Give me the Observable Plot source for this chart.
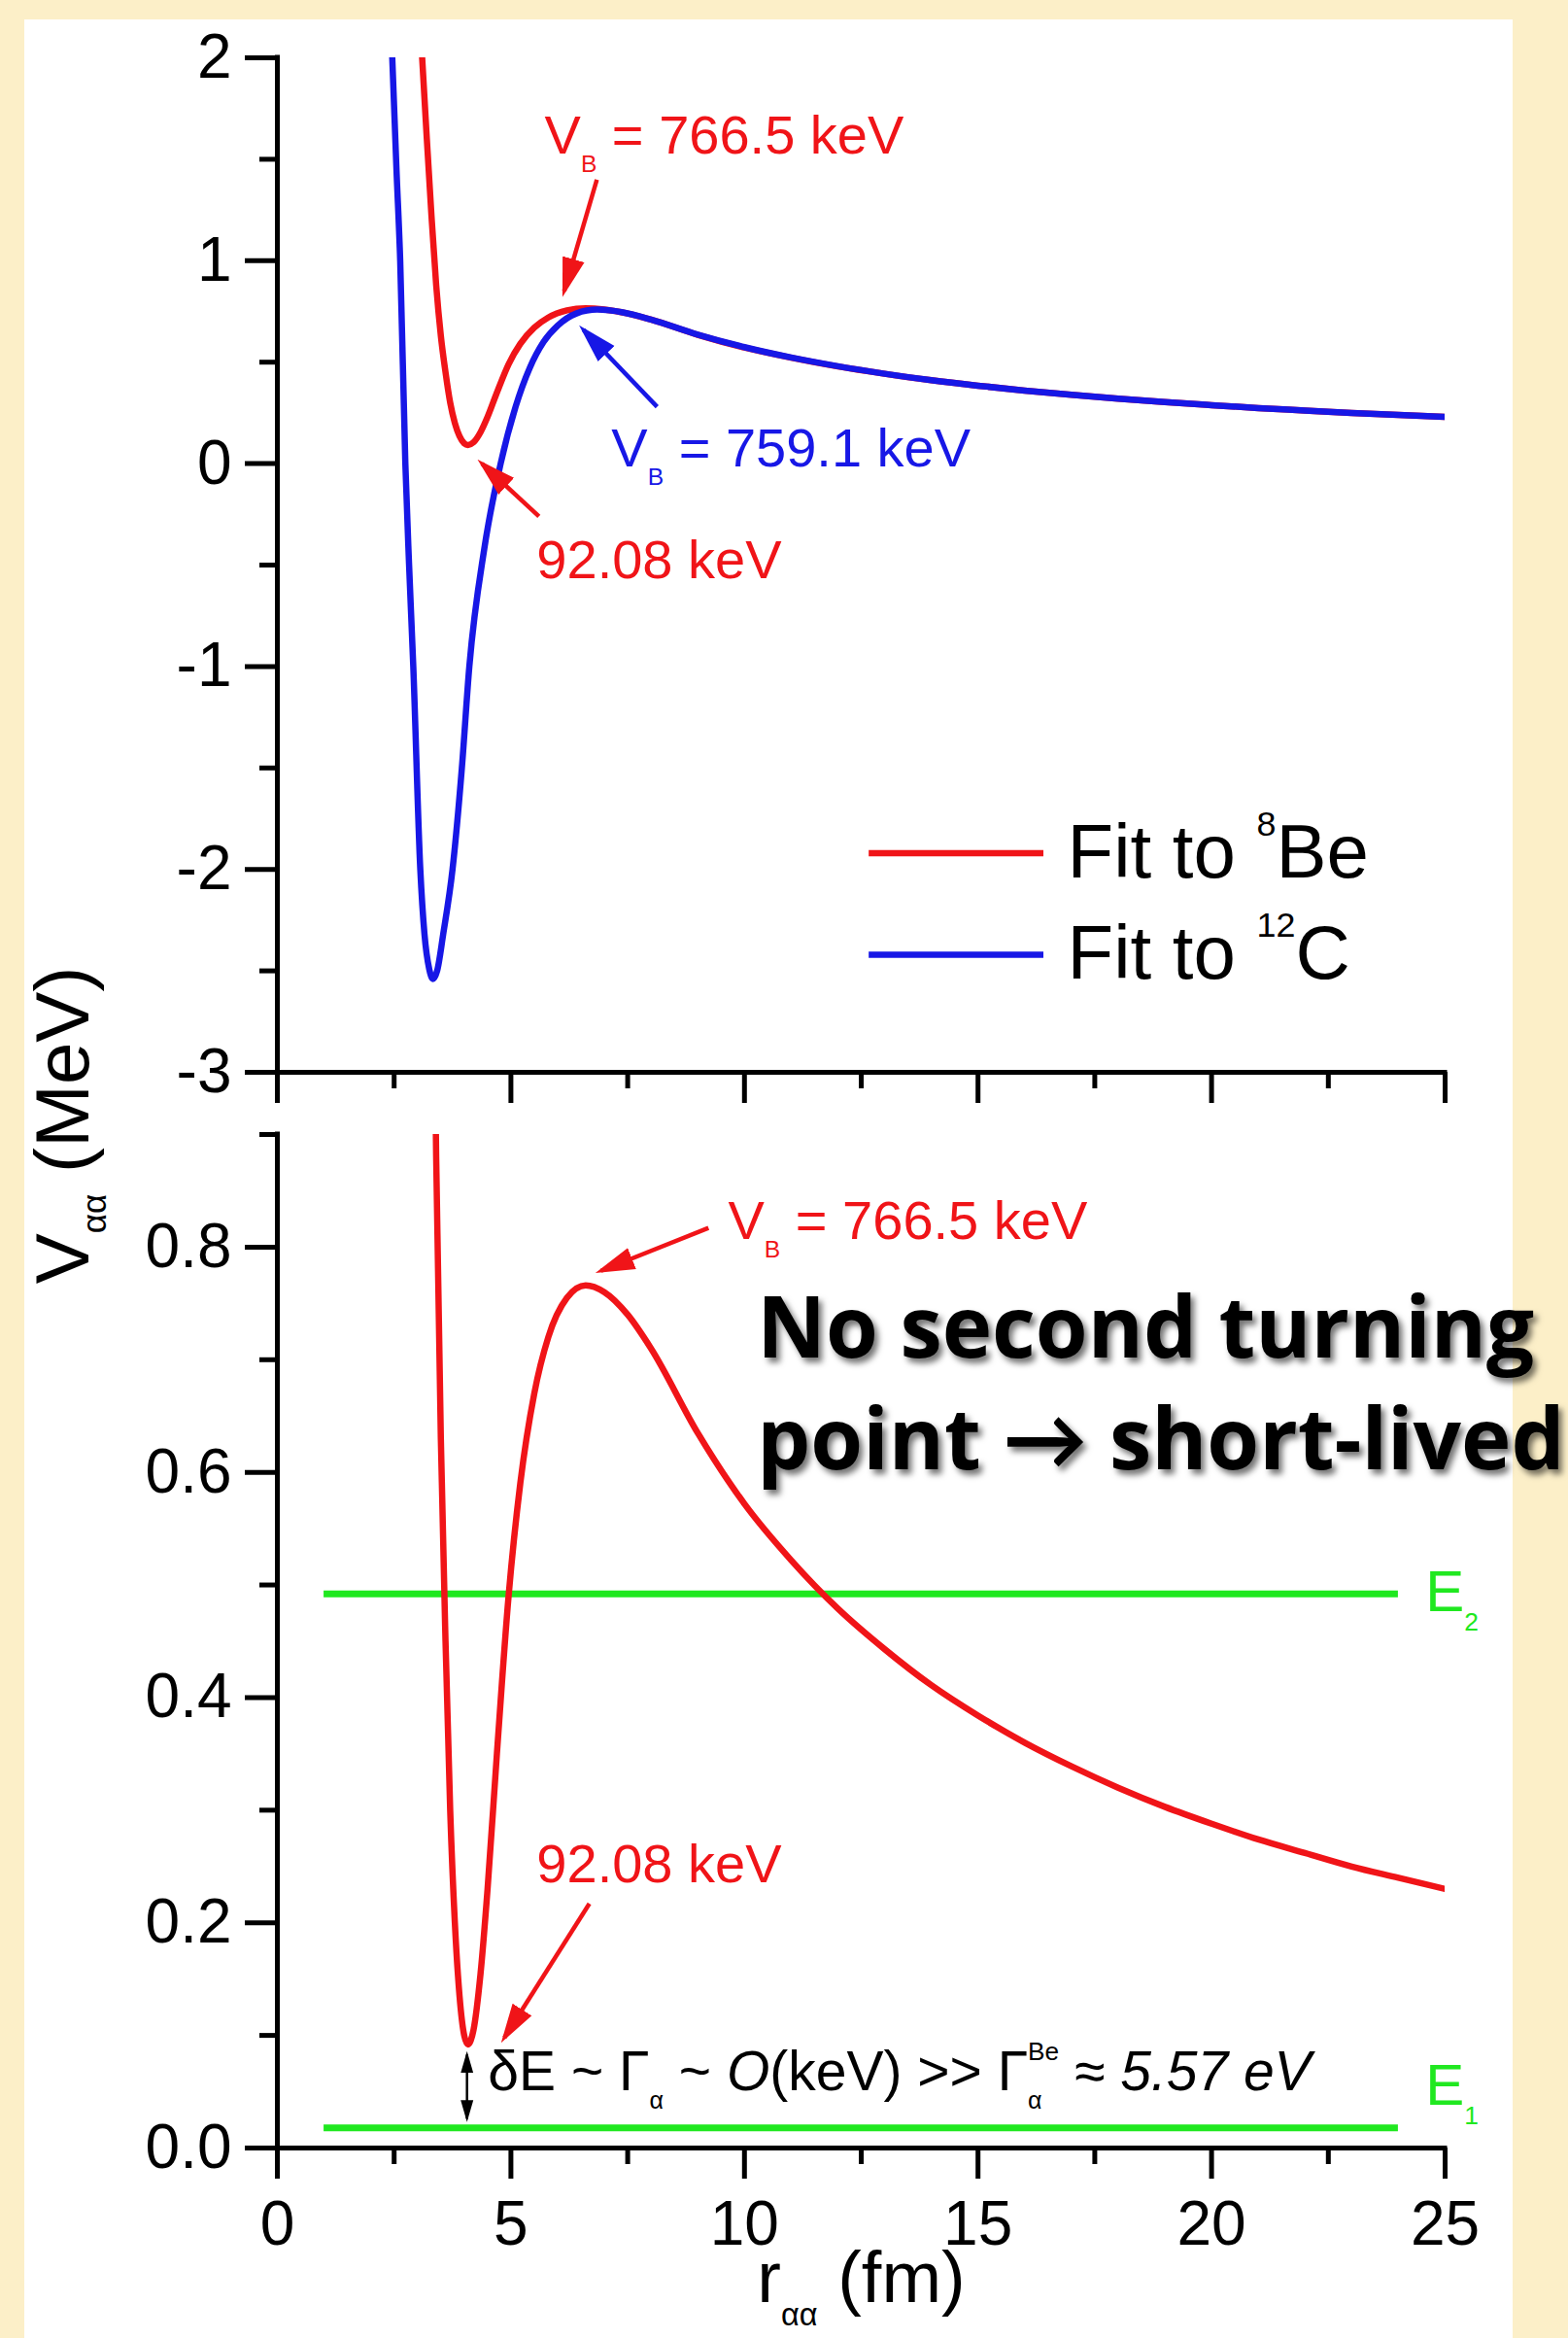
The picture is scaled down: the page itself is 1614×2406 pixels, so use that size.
<!DOCTYPE html>
<html>
<head>
<meta charset="utf-8">
<script src="https://cdn.jsdelivr.net/npm/d3@7"></script>
<script src="https://cdn.jsdelivr.net/npm/@observablehq/plot@0.6"></script>
<style>
  html, body { margin: 0; padding: 0; width: 1614px; height: 2406px; overflow: hidden; background: #FCEFC8; }
  #panel { position: absolute; left: 25px; top: 20px; width: 1532px; height: 2386px; background: #ffffff; }
  #topPlot, #bottomPlot { position: absolute; left: 0; }
  #topPlot { top: 0; }
  #bottomPlot { top: 1100px; }
  svg { overflow: visible; }
  #ylab { position: absolute; left: 64px; top: 1158px; transform: translate(-50%, -50%) rotate(-90deg);
          font: 78px 'Liberation Sans', Arial, sans-serif; line-height: 1; white-space: nowrap; color: #000; }
  #ylab .sub { font-size: 0.45em; position: relative; top: 0.5em; }
</style>
</head>
<body>
<div id="panel"></div>
<div id="topPlot"></div>
<div id="bottomPlot"></div>
<div id="ylab">V<span class="sub">αα</span> (MeV)</div>
<script>
// ---------------- data ----------------
// alpha-alpha separation r (fm) and potential V (MeV), fit to 8Be
const rBe = [3.10, 3.20, 3.30, 3.40, 3.50, 3.60, 3.70, 3.80, 3.90, 4.00,
             4.08, 4.20, 4.35, 4.50, 4.70, 4.95, 5.20, 5.50, 5.80, 6.20,
             6.60, 7.00, 7.50, 8.00, 9.00, 10, 11, 12, 13, 14,
             15, 16, 17, 18, 19, 20, 21, 22, 23, 24, 25];
const vBe = [2.00, 1.60, 1.22, 0.88, 0.63, 0.45, 0.30, 0.20, 0.135, 0.100,
             0.092, 0.105, 0.155, 0.23, 0.35, 0.49, 0.59, 0.67, 0.72, 0.755,
             0.766, 0.760, 0.74, 0.71, 0.635, 0.572, 0.522, 0.479, 0.443, 0.411,
             0.384, 0.360, 0.339, 0.320, 0.303, 0.288, 0.274, 0.262, 0.250, 0.240, 0.230];
// fit to 12C
const rC = [2.46, 2.55, 2.63, 2.74, 2.82, 2.91, 3.06, 3.15, 3.25, 3.33,
            3.42, 3.55, 3.75, 3.95, 4.11, 4.43, 4.78, 5.10, 5.40, 5.70,
            6.00, 6.40, 6.85, 7.40, 8.00, 9, 10, 11, 12, 13,
            14, 15, 16, 17, 18, 19, 20, 21, 22, 23, 24, 25];
const vC = [2.00, 1.45, 1.00, 0.00, -0.50, -1.00, -2.00, -2.32, -2.49, -2.54,
            -2.50, -2.32, -2.00, -1.50, -1.00, -0.42, 0.00, 0.28, 0.47, 0.60,
            0.68, 0.74, 0.759, 0.745, 0.71, 0.636, 0.574, 0.523, 0.480, 0.443,
            0.411, 0.384, 0.360, 0.339, 0.320, 0.303, 0.288, 0.274, 0.262, 0.250, 0.240, 0.230];
const seriesNames = ["Fit to ^{8}Be", "Fit to ^{12}C"];
const energyLevels = [0.018, 0.492];
const energyNames = ["E_{1}", "E_{2}"];
const levelSpan = [1, 24];
const topNotes = ["V_{B} = 766.5 keV", "V_{B} = 759.1 keV", "92.08 keV"];
const bottomNotes = ["V_{B} = 766.5 keV", "92.08 keV"];
const widthNote = "δE ~ Γ_{α} ~ *{O}(keV) >> Γ_{α}^{Be} ≈ *{5.57 eV}";
const bigNote = "No second turning\npoint → short-lived";
const xTitle = "r_{αα} (fm)";
const xMajor = [0, 5, 10, 15, 20, 25];
const xMinor = [2.5, 7.5, 12.5, 17.5, 22.5];
const yTopMajor = [-3, -2, -1, 0, 1, 2];
const yTopMinor = [-2.5, -1.5, -0.5, 0.5, 1.5];
const yBotMajor = [0, 0.2, 0.4, 0.6, 0.8];
const yBotMinor = [0.1, 0.3, 0.5, 0.7, 0.9];

// ---------------- styling / layout ----------------
const RED = "#f01418", BLUE = "#1717e6", GREEN = "#20e820", INK = "#000";
const FONT = "'Liberation Sans', Arial, sans-serif";
const be = rBe.map((r, i) => ({r, v: vBe[i]}));
const c12 = rC.map((r, i) => ({r, v: vC[i]}));

function filledHead(color) {
  const m = d3.create("svg:marker")
    .attr("viewBox", "-9 -3 9 6")
    .attr("markerWidth", 9).attr("markerHeight", 6)
    .attr("refX", -1.4).attr("refY", 0)
    .attr("orient", "auto-start-reverse")
    .attr("stroke", "none");
  m.append("path").attr("d", "M-9,-2.6L0,0L-9,2.6Z").attr("fill", color).attr("stroke", "none");
  return m.node();
}

function axes(yMajor, yMinor, yFmt, xLabels) {
  return [
    Plot.axisY(yMajor, {tickSize: 33, tickPadding: 14, strokeWidth: 5, tickFormat: yFmt, label: null, fontSize: 64}),
    Plot.axisY(yMinor, {tickSize: 18, strokeWidth: 5, text: null, label: null}),
    xLabels
      ? Plot.axisX(xMajor, {tickSize: 32, tickPadding: 22, strokeWidth: 5, tickFormat: d => String(d), label: null, fontSize: 64})
      : Plot.axisX(xMajor, {tickSize: 32, strokeWidth: 5, text: null, label: null}),
    Plot.axisX(xMinor, {tickSize: 17, strokeWidth: 5, text: null, label: null})
  ];
}
const style = {background: "transparent", overflow: "visible", fontFamily: FONT, fontSize: "64px", color: "#000"};

function note(arr, i, x, y, color, size = 56, extra = {}) {
  return Plot.text([arr[i]], {x: () => x, y: () => y, text: d => d, fill: color, fontSize: size,
    fontFamily: FONT, textAnchor: "start", lineAnchor: "bottom", ...extra});
}
function arrow(x1, y1, x2, y2, color, w = 4.5, both = false) {
  return Plot.link([0], {x1: () => x1, y1: () => y1, x2: () => x2, y2: () => y2, stroke: color,
    strokeWidth: w, markerEnd: filledHead, markerStart: both ? filledHead : null});
}

// ---------------- top panel ----------------
const topPlot = Plot.plot({
  width: 1614, height: 1160, marginLeft: 285, marginRight: 127, marginTop: 59, marginBottom: 57,
  x: {domain: [0, 25]}, y: {domain: [-3, 2]}, style,
  marks: [
    ...axes(yTopMajor, yTopMinor, d => String(d), false),
    Plot.ruleX([0], {strokeWidth: 5, strokeLinecap: "square"}),
    Plot.ruleY([-3], {strokeWidth: 5, strokeLinecap: "square"}),
    Plot.line(be, {x: "r", y: "v", stroke: RED, strokeWidth: 6.5, curve: "monotone-x", clip: true}),
    Plot.line(c12, {x: "r", y: "v", stroke: BLUE, strokeWidth: 6.5, curve: "monotone-x", clip: true}),
    arrow(6.84, 1.40, 6.14, 0.85, RED),
    arrow(8.13, 0.28, 6.55, 0.66, BLUE),
    arrow(5.60, -0.26, 4.38, 0.00, RED),
    note(topNotes, 0, 5.72, 1.526, RED),
    note(topNotes, 1, 7.15, -0.016, BLUE),
    note(topNotes, 2, 5.55, -0.567, RED),
    // legend
    Plot.ruleY([-1.92], {x1: 12.67, x2: 16.41, stroke: RED, strokeWidth: 6.5}),
    Plot.ruleY([-2.42], {x1: 12.67, x2: 16.41, stroke: BLUE, strokeWidth: 6.5}),
    note(seriesNames, 0, 16.91, -1.92, INK, 78, {lineAnchor: "middle", fontFamily: "'Liberation Sans Narrow', 'Liberation Sans', Arial"}),
    note(seriesNames, 1, 16.91, -2.42, INK, 78, {lineAnchor: "middle", fontFamily: "'Liberation Sans Narrow', 'Liberation Sans', Arial"})
  ]
});

// ---------------- bottom panel ----------------
const bottomPlot = Plot.plot({
  width: 1614, height: 1306, marginLeft: 285, marginRight: 127, marginTop: 67, marginBottom: 196,
  x: {domain: [0, 25]}, y: {domain: [0, 0.9]}, style,
  marks: [
    ...axes(yBotMajor, yBotMinor, d3.format(".1f"), true),
    Plot.ruleX([0], {strokeWidth: 5, strokeLinecap: "square"}),
    Plot.ruleY([0], {strokeWidth: 5, strokeLinecap: "square"}),
    Plot.ruleY(energyLevels, {x1: levelSpan[0], x2: levelSpan[1], stroke: GREEN, strokeWidth: 7}),
    Plot.line(be, {x: "r", y: "v", stroke: RED, strokeWidth: 6.5, curve: "monotone-x", clip: true}),
    arrow(9.23, 0.817, 6.93, 0.779, RED),
    arrow(6.68, 0.217, 4.86, 0.098, RED),
    arrow(4.06, 0.083, 4.06, 0.026, INK, 2.5, true),
    note(bottomNotes, 0, 9.65, 0.807, RED),
    note(bottomNotes, 1, 5.55, 0.236, RED),
    Plot.text([widthNote], {x: () => 4.51, y: () => 0.051, text: d => d, fill: INK, fontSize: 57,
      fontFamily: FONT, textAnchor: "start", lineAnchor: "bottom"}),
    note(energyNames, 1, 24.58, 0.477, GREEN, 60),
    note(energyNames, 0, 24.58, 0.038, GREEN, 60),
    Plot.text([bigNote], {x: () => 10.27, y: () => 0.603, text: d => d, fill: "#000", fontSize: 87,
      fontWeight: "bold", fontFamily: "'Open Sans', Lato, sans-serif", textAnchor: "start",
      lineAnchor: "bottom", lineHeight: 1.32}),
    Plot.text([xTitle], {frameAnchor: "bottom", dy: 158, text: d => d, fill: "#000", fontSize: 74, fontFamily: FONT})
  ]
});

document.getElementById("topPlot").appendChild(topPlot);
document.getElementById("bottomPlot").appendChild(bottomPlot);

// ---------------- rich text: sub/superscripts & italics ----------------
const SVGNS = "http://www.w3.org/2000/svg";
function richify(svg) {
  svg.querySelectorAll("text").forEach(t => {
    if (t.children.length) return;
    const s = t.textContent;
    if (!/[_^*]\{/.test(s)) return;
    const fs = parseFloat(getComputedStyle(t).fontSize);
    const re = /([_^*])\{([^}]*)\}/g;
    const parts = [];
    let last = 0, m;
    while ((m = re.exec(s))) {
      if (m.index > last) parts.push({type: "n", s: s.slice(last, m.index)});
      parts.push({type: m[1], s: m[2]});
      last = re.lastIndex;
    }
    if (last < s.length) parts.push({type: "n", s: s.slice(last)});
    t.textContent = "";
    let cur = 0, prevSub = null;
    parts.forEach((p, i) => {
      const ts = document.createElementNS(SVGNS, "tspan");
      ts.textContent = p.s;
      let target = 0;
      if (p.type === "_") { target = 0.33 * fs; ts.setAttribute("font-size", 0.44 * fs); }
      else if (p.type === "^") { target = -0.55 * fs; ts.setAttribute("font-size", 0.46 * fs); }
      else if (p.type === "*") { ts.setAttribute("font-style", "italic"); }
      const dy = target - cur;
      if (dy) ts.setAttribute("dy", dy);
      cur = target;
      t.appendChild(ts);
      if (p.type === "^" && i > 0 && parts[i - 1].type === "_" && prevSub) {
        ts.setAttribute("dx", -prevSub.getComputedTextLength());
      }
      if (p.type === "_") prevSub = ts;
    });
  });
}
richify(topPlot);
richify(bottomPlot);

// drop shadow for the big remark
const defs = d3.select(bottomPlot).insert("defs", ":first-child");
const f = defs.append("filter").attr("id", "bigShadow").attr("x", "-5%").attr("y", "-20%").attr("width", "115%").attr("height", "150%");
f.append("feDropShadow").attr("dx", 4).attr("dy", 5).attr("stdDeviation", 3).attr("flood-color", "#000").attr("flood-opacity", 0.55);
bottomPlot.querySelectorAll("text").forEach(t => {
  if (t.textContent.startsWith("No second")) t.setAttribute("filter", "url(#bigShadow)");
});
</script>
</body>
</html>
